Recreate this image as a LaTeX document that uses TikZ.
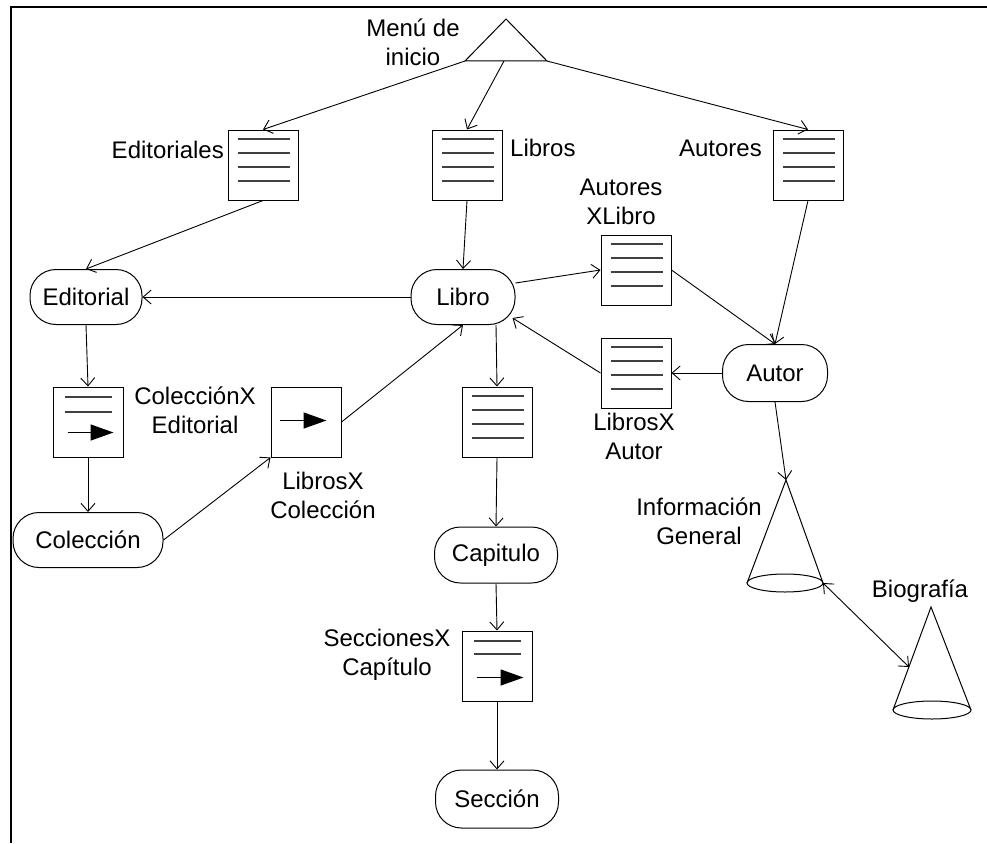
\documentclass[tikz,border=0pt]{standalone}
\usepackage{fontspec}
\setmainfont{Liberation Sans}
\usetikzlibrary{arrows.meta,calc}

\tikzset{
  txt/.style={font=\fontsize{24}{29}\selectfont, align=center, inner sep=0pt},
  listbox/.style={draw, line width=1pt, minimum width=70pt, minimum height=70pt, inner sep=0pt},
  state/.style={draw, line width=1pt, rounded corners=26pt, inner sep=0pt,
                font=\fontsize{24}{28}\selectfont},
  listline/.style={line width=2pt, black!75},
  conn/.style={line width=0.9pt, -{Straight Barb[length=8pt,width=14pt]}},
  pointer/.style={line width=1.4pt, -{Triangle[length=23pt,width=16pt]}},
}

% four horizontal rules inside a list box
\newcommand\listlines[1]{%
  \foreach \d in {9,23,37,51}{%
    \draw[listline] ($(#1.north west)+(10,\d)$) -- ($(#1.north east)+(-9,\d)$);}}

\begin{document}
\begin{tikzpicture}[x=1pt,y=-1pt]
\useasboundingbox (0,0) rectangle (987,843);
\fill[white] (0,0) rectangle (987,843);

% frame
\draw[line width=2pt] (11,843) -- (11,7) -- (987,7);

% start menu triangle
\coordinate (menuA) at (506,19);
\coordinate (menuL) at (465,61);
\coordinate (menuR) at (547,61);
\coordinate (menuM) at (504,61);
\draw[line width=1pt] (menuA) -- (menuL) -- (menuR) -- cycle;
\node[txt] (menulbl) at (413,42) {Menú de\\inicio};

% list boxes
\node[listbox] (edtls) at (263,165) {};
\node[listbox] (libros) at (467,165) {};
\node[listbox] (autores) at (808,165) {};
\node[listbox] (axl) at (636,270) {};
\node[listbox] (lxa) at (636,373) {};
\node[listbox] (libbox) at (497,422) {};
\node[listbox] (cxe) at (88,422) {};
\node[listbox] (lxc) at (306,422) {};
\node[listbox] (sxc) at (497,666) {};
\listlines{edtls}
\listlines{libros}
\listlines{autores}
\listlines{axl}
\listlines{lxa}
\listlines{libbox}

% boxes holding a pointer
\draw[listline] ($(cxe.north west)+(12,10)$) -- ($(cxe.north east)+(-12,10)$);
\draw[listline] ($(cxe.north west)+(12,25)$) -- ($(cxe.north east)+(-12,25)$);
\draw[pointer] ($(cxe.north west)+(15,46)$) -- ($(cxe.north west)+(61,46)$);
\draw[pointer] ($(lxc.north west)+(9,34)$) -- ($(lxc.north west)+(56,34)$);
\draw[listline] ($(sxc.north west)+(12,10)$) -- ($(sxc.north east)+(-12,10)$);
\draw[listline] ($(sxc.north west)+(12,23)$) -- ($(sxc.north east)+(-12,23)$);
\draw[pointer] ($(sxc.north west)+(15,47)$) -- ($(sxc.north west)+(62,47)$);

% states
\node[state, minimum width=112pt, minimum height=55pt] (editorial) at (86,297) {Editorial};
\node[state, minimum width=104pt, minimum height=55pt] (libro) at (463,297) {Libro};
\node[state, minimum width=105pt, minimum height=57pt] (autor) at (775,373) {Autor};
\node[state, minimum width=150pt, minimum height=55pt] (coleccion) at (88,540) {Colección};
\node[state, minimum width=123pt, minimum height=56pt] (capitulo) at (496,555) {Capitulo};
\node[state, minimum width=123pt, minimum height=58pt] (seccion) at (497,799) {Sección};

% cones
\coordinate (infoA) at (786,480);
\coordinate (infoC) at (785,583);
\coordinate (infoL) at (747,583);
\coordinate (infoR) at (823,583);
\draw[line width=1pt] (infoL) -- (infoA) -- (infoR);
\draw[line width=1pt] (infoC) ellipse [x radius=38, y radius=9];
\coordinate (bioA) at (931,607);
\coordinate (bioC) at (932,710);
\coordinate (bioL) at (893,710);
\coordinate (bioR) at (971,710);
\coordinate (bioS) at (909,667);
\draw[line width=1pt] (bioL) -- (bioA) -- (bioR);
\draw[line width=1pt] (bioC) ellipse [x radius=39, y radius=9];

% labels
\node[txt, anchor=east] (edtlslbl) at (224,150) {Editoriales};
\node[txt, anchor=west] (libroslbl) at (510,148) {Libros};
\node[txt, anchor=east] (autoreslbl) at (762,148) {Autores};
\node[txt] (axllbl) at (621,202) {Autores\\XLibro};
\node[txt] (lxalbl) at (634,436) {LibrosX\\Autor};
\node[txt] (cxelbl) at (195,410) {ColecciónX\\Editorial};
\node[txt] (lxclbl) at (323,495) {LibrosX\\Colección};
\node[txt] (infolbl) at (699,521) {Información\\General};
\node[txt] (biolbl) at (920,591) {Biografía};
\node[txt] (sxclbl) at (387,655) {SeccionesX\\Capítulo};

% connectors
\draw[conn] (menuL) -- (edtls.north);
\draw[conn] (menuM) -- (libros.north);
\draw[conn] (menuR) -- (autores.north);
\draw[conn] (edtls.south) -- (editorial.north);
\draw[conn] (libros.south) -- (libro.north);
\draw[conn] (libro.west) -- (editorial.east);
\draw[conn] ([yshift=14pt]libro.east) -- (axl.west);
\draw[conn] (axl.east) -- (autor.north);
\draw[conn] (autores.south) -- (autor.north);
\draw[conn] (autor.west) -- (lxa.east);
\draw[conn] (lxa.west) -- ($(libro.east)+(-3,21)$);
\draw[conn] ([xshift=33pt]libro.south) -- (libbox.north);
\draw[conn] (libbox.south) -- (capitulo.north);
\draw[conn] (capitulo.south) -- (sxc.north);
\draw[conn] (sxc.south) -- (seccion.north);
\draw[conn] (editorial.south) -- (cxe.north);
\draw[conn] (cxe.south) -- (coleccion.north);
\draw[conn] (coleccion.east) -- (lxc.south west);
\draw[conn] (lxc.east) -- (libro.south);
\draw[conn] (autor.south) -- (infoA);
\draw[conn, {Straight Barb[length=8pt,width=14pt]}-{Straight Barb[length=8pt,width=14pt]}] (infoR) -- (bioS);
\end{tikzpicture}
\end{document}
